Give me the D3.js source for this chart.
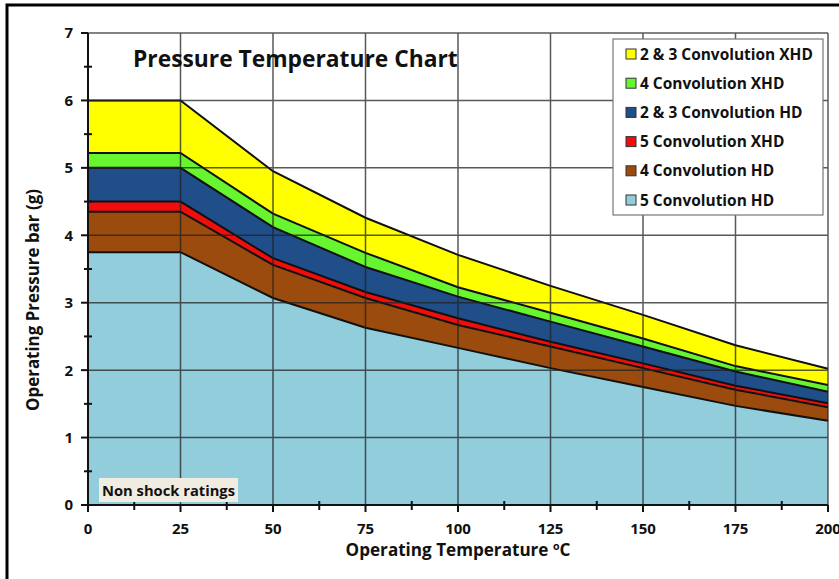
<!DOCTYPE html>
<html><head><meta charset="utf-8">
<script src="https://cdn.jsdelivr.net/npm/d3@7"></script>
<style>body{margin:0;background:#fff}svg{display:block}text{font-family:"Open Sans",Lato,sans-serif;font-weight:bold;fill:#111}</style>
</head><body>
<script>
const temps = [0,25,50,75,100,125,150,175,200];
const seriesNames = ["2 & 3 Convolution XHD","4 Convolution XHD","2 & 3 Convolution HD","5 Convolution XHD","4 Convolution HD","5 Convolution HD"];
const xhd23 = [6.0,6.0,4.95,4.26,3.71,3.25,2.82,2.37,2.02];
const xhd4  = [5.22,5.22,4.32,3.74,3.23,2.85,2.47,2.06,1.78];
const hd23  = [5.0,5.0,4.12,3.53,3.09,2.72,2.35,1.98,1.68];
const xhd5  = [4.5,4.5,3.66,3.16,2.77,2.42,2.10,1.77,1.51];
const hd4   = [4.35,4.35,3.56,3.07,2.67,2.35,2.03,1.71,1.45];
const hd5   = [3.75,3.75,3.07,2.63,2.33,2.03,1.75,1.47,1.25];
const seriesValues = [xhd23,xhd4,hd23,xhd5,hd4,hd5];
const colors = ["#ffff00","#66f52e","#1f4e88","#f20d0d","#9c4b0e","#92cddc"];
const xTicks = [0,25,50,75,100,125,150,175,200];
const yTicks = [0,1,2,3,4,5,6,7];

const W=839,H=579;
const svg=d3.select("body").append("svg").attr("width",W).attr("height",H);
const x=d3.scaleLinear().domain([0,200]).range([88,828]);
const y=d3.scaleLinear().domain([0,7]).range([505,33]);

function fit(sel,target){ // scale font-size so that text width matches target
  const fs=+sel.attr("font-size"); const w=sel.node().getComputedTextLength();
  if(w>0) sel.attr("font-size",fs*target/w);
  return sel;
}

// frame (left and top)
svg.append("path").attr("d",`M7,${H}V5H${W}`).attr("fill","none").attr("stroke","#000").attr("stroke-width",3);

// areas
const area=d3.area().x((d,i)=>x(temps[i])).y0(y(0)).y1(d=>y(d));
const line=d3.line().x((d,i)=>x(temps[i])).y(d=>y(d));
seriesValues.forEach((vals,k)=>{
  svg.append("path").attr("d",area(vals)).attr("fill",colors[k]);
});
seriesValues.forEach((vals,k)=>{
  svg.append("path").attr("d",line(vals)).attr("fill","none").attr("stroke","#111").attr("stroke-width",2);
});

// gridlines on top
const g=svg.append("g").attr("stroke","#222").attr("stroke-width",1.5).attr("opacity",0.75);
xTicks.slice(1).forEach(t=>g.append("line").attr("x1",x(t)).attr("x2",x(t)).attr("y1",y(0)).attr("y2",y(7)));
yTicks.slice(1).forEach(t=>g.append("line").attr("x1",x(0)).attr("x2",x(200)).attr("y1",y(t)).attr("y2",y(t)));

// axes
const ax=svg.append("g").attr("stroke","#111").attr("stroke-width",2);
ax.append("line").attr("x1",x(0)).attr("x2",x(200)).attr("y1",y(0)).attr("y2",y(0));
ax.append("line").attr("x1",x(0)).attr("x2",x(0)).attr("y1",y(0)).attr("y2",y(7));
xTicks.forEach(t=>ax.append("line").attr("x1",x(t)).attr("x2",x(t)).attr("y1",y(0)).attr("y2",y(0)+7));
d3.range(12.5,200,25).forEach(t=>ax.append("line").attr("x1",x(t)).attr("x2",x(t)).attr("y1",y(0)-4).attr("y2",y(0)+5));
yTicks.forEach(t=>ax.append("line").attr("x1",x(0)-7).attr("x2",x(0)).attr("y1",y(t)).attr("y2",y(t)));
d3.range(0.5,7,1).forEach(t=>ax.append("line").attr("x1",x(0)-4).attr("x2",x(0)+4).attr("y1",y(t)).attr("y2",y(t)));

// tick labels
svg.append("g").selectAll("text").data(xTicks).join("text")
  .attr("x",d=>x(d)).attr("y",534).attr("text-anchor","middle").attr("font-size",15).text(d=>d);
svg.append("g").selectAll("text").data(yTicks).join("text")
  .attr("x",73).attr("y",d=>y(d)).attr("dy","0.36em").attr("text-anchor","end").attr("font-size",15).text(d=>d);

// axis titles
const xt=svg.append("text").attr("x",458).attr("y",556).attr("text-anchor","middle").attr("font-size",15.5);
xt.append("tspan").text("Operating Temperature ");
xt.append("tspan").attr("font-size","0.62em").attr("dy",-6).text("o");
xt.append("tspan").attr("dy",6).text("C");
fit(xt,225);
const yt=svg.append("text").attr("transform","translate(39,300) rotate(-90)").attr("text-anchor","middle").attr("font-size",15.5).text("Operating Pressure bar (g)");
fit(yt,222);

// title
fit(svg.append("text").attr("x",133).attr("y",67).attr("font-size",20).text("Pressure Temperature Chart"),325);

// non shock label
svg.append("rect").attr("x",99).attr("y",478).attr("width",139).attr("height",24).attr("fill","#f1ece2");
fit(svg.append("text").attr("x",102).attr("y",496).attr("font-size",14).text("Non shock ratings"),133);

// legend
const lg=svg.append("g");
lg.append("rect").attr("x",613).attr("y",39).attr("width",210).attr("height",176).attr("fill","#fff").attr("stroke","#777").attr("stroke-width",1.2);
let legFs=null;
seriesNames.forEach((n,i)=>{
  const cy=54+i*29.2;
  lg.append("rect").attr("x",626).attr("y",cy-5).attr("width",10).attr("height",10).attr("fill",colors[i]).attr("stroke","#333").attr("stroke-width",1);
  const t=lg.append("text").attr("x",640).attr("y",cy).attr("dy","0.36em").attr("font-size",14).text(n);
  if(i===0){ fit(t,173); legFs=+t.attr("font-size"); } else t.attr("font-size",legFs);
});
</script>
</body></html>
